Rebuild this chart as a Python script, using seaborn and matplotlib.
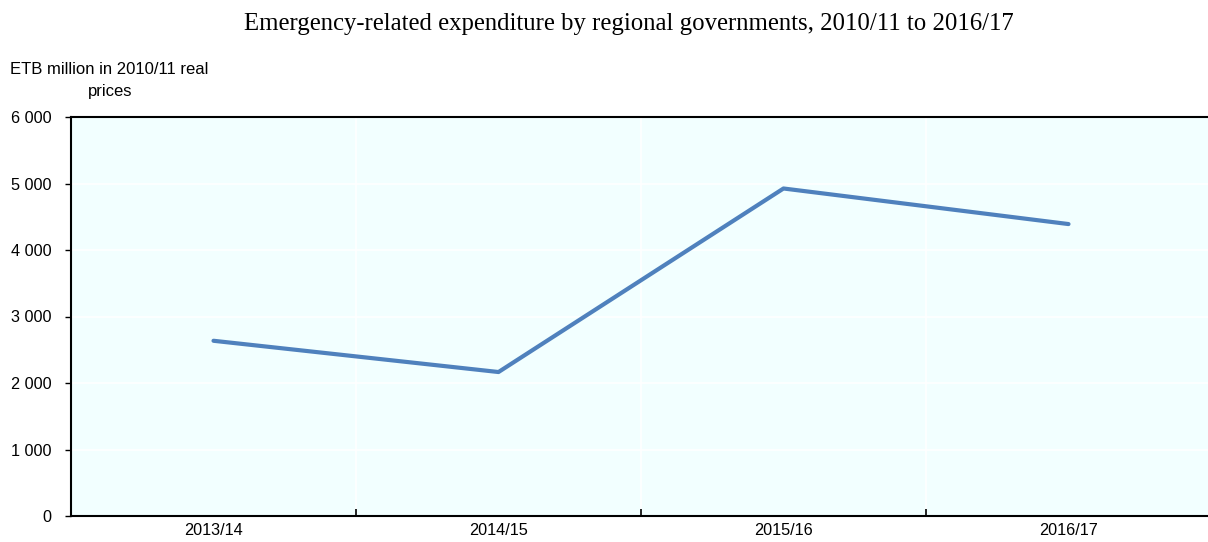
import matplotlib
matplotlib.use("Agg")
import matplotlib.pyplot as plt
import seaborn as sns
import pandas as pd
import numpy as np

# Data
years = ["2013/14", "2014/15", "2015/16", "2016/17"]
expenditure = [2635, 2165, 4925, 4390]

data = pd.DataFrame({"Year": years, "Expenditure": expenditure, "pos": range(len(years))})

sns.set_style("white")
plt.rcParams["font.family"] = ["Liberation Sans", "DejaVu Sans"]
plt.rcParams["text.color"] = "black"
plt.rcParams["xtick.color"] = "black"
plt.rcParams["ytick.color"] = "black"

fig = plt.figure(figsize=(12.08, 5.42), dpi=100)
ax = fig.add_axes([71 / 1208, 1 - 516 / 542, 1140 / 1208, 399 / 542])
ax.set_facecolor("#F2FFFF")

sns.lineplot(data=data, x="pos", y="Expenditure", ax=ax, color="#4F81BD", linewidth=3)

ax.set_xlim(-0.5, 3.5)
ax.set_ylim(0, 6000)
ax.set_yticks(np.arange(0, 6001, 1000))
ax.set_yticklabels([f"{v:,}".replace(",", " ") for v in range(0, 6001, 1000)], fontsize=11.7)

# category labels centered, tick marks at category boundaries
ax.set_xticks([0.5, 1.5, 2.5])
ax.set_xticklabels([])
ax.set_xticks(range(len(years)), minor=True)
ax.set_xticklabels(years, minor=True, fontsize=11.7)
ax.tick_params(axis="x", which="major", bottom=True, direction="in", length=5, width=1.2, color="black")
ax.tick_params(axis="x", which="minor", bottom=True, length=0, pad=5, labelcolor="black")
ax.tick_params(axis="y", left=True, direction="out", length=4, width=1, color="black", pad=10, labelcolor="black")

ax.grid(True, which="major", color="white", linewidth=1.2)
ax.set_axisbelow(True)

for side in ["left", "bottom", "top"]:
    ax.spines[side].set_visible(True)
    ax.spines[side].set_color("black")
    ax.spines[side].set_linewidth(1.5)
ax.spines["right"].set_visible(False)

ax.set_xlabel("")
ax.set_ylabel("")

fig.text(629 / 1208, 1 - 24 / 542, "Emergency-related expenditure by regional governments, 2010/11 to 2016/17",
         ha="center", va="center", fontsize=17.8, family=["Liberation Serif", "DejaVu Serif"])
fig.text(10 / 1208, 1 - 70 / 542, "ETB million in 2010/11 real", ha="left", va="center", fontsize=12)
fig.text(110 / 1208, 1 - 91 / 542, "prices", ha="center", va="center", fontsize=12)

fig.savefig("out.png", dpi=100)
